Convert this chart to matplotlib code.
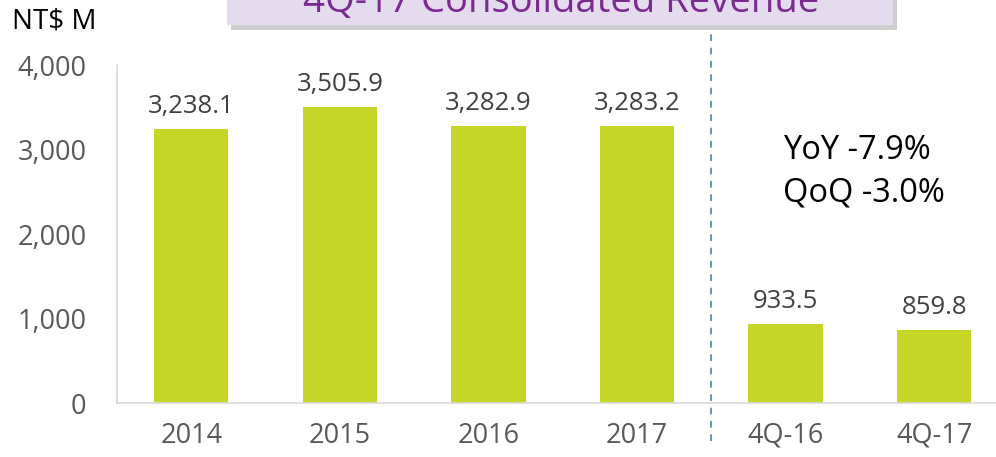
import matplotlib.pyplot as plt
from matplotlib.patches import Rectangle

# Data
categories = ['2014', '2015', '2016', '2017', '4Q-16', '4Q-17']
revenue = [3238.1, 3505.9, 3282.9, 3283.2, 933.5, 859.8]
y_ticks = [0, 1000, 2000, 3000, 4000]
y_tick_labels = ['0', '1,000', '2,000', '3,000', '4,000']
title = '4Q-17 Consolidated Revenue'
growth_note = 'YoY -7.9%\nQoQ -3.0%'

plt.rcParams['font.family'] = ['Open Sans', 'DejaVu Sans']

fig = plt.figure(figsize=(9.96, 4.57), dpi=100)
ax = fig.add_axes([0.1175, 0.118, 0.895, 0.7396])

x = list(range(len(categories)))
ax.bar(x, revenue, width=0.5, color='#c5d629', zorder=2)

# value labels
for xi, v in zip(x, revenue):
    ax.text(xi, v + 190, f'{v:,.1f}', ha='center', va='baseline',
            fontsize=18.5, color='#404040')

ax.set_xlim(-0.5, 5.5)
ax.set_ylim(0, 4000)
ax.set_xticks(x)
ax.set_xticklabels(categories)
ax.set_yticks(y_ticks)
ax.set_yticklabels(y_tick_labels)
ax.tick_params(axis='both', length=0, labelsize=19.5, colors='#595959')
ax.tick_params(axis='x', pad=13.5)
ax.tick_params(axis='y', pad=22)

for s in ['top', 'right']:
    ax.spines[s].set_visible(False)
ax.spines['left'].set_color('#d9d9d9')
ax.spines['bottom'].set_color('#d9d9d9')
ax.spines['left'].set_linewidth(1.2)
ax.spines['bottom'].set_linewidth(1.2)

# dashed separator between annual and quarterly figures
ax.plot([3.5, 3.5], [-450, 4400], linestyle=(0, (4, 4)), color='#4a7ebb',
        linewidth=1.2, clip_on=False, zorder=3)

ax.text(3.98, 2740, growth_note, ha='left', va='center', fontsize=23.5,
        color='black', linespacing=1.38)

# unit label
fig.text(12 / 996, 1 - 22 / 457, 'NT$ M', ha='left', va='center',
         fontsize=20, color='black')

# title box (cut off at top like the slide)
shadow = Rectangle((231 / 996, 1 - 30 / 457), 666 / 996, 60 / 457,
                   transform=fig.transFigure, facecolor='#b0b0b0',
                   edgecolor='none', alpha=0.6)
box = Rectangle((227 / 996, 1 - 25 / 457), 666 / 996, 60 / 457,
                transform=fig.transFigure, facecolor='#e4dcee',
                edgecolor='none')
fig.patches.extend([shadow, box])
fig.text(561 / 996, 1 - 12 / 457, title, ha='center', va='baseline',
         fontsize=27.5, color='#7b2a92')

fig.savefig('out.png', dpi=100)
